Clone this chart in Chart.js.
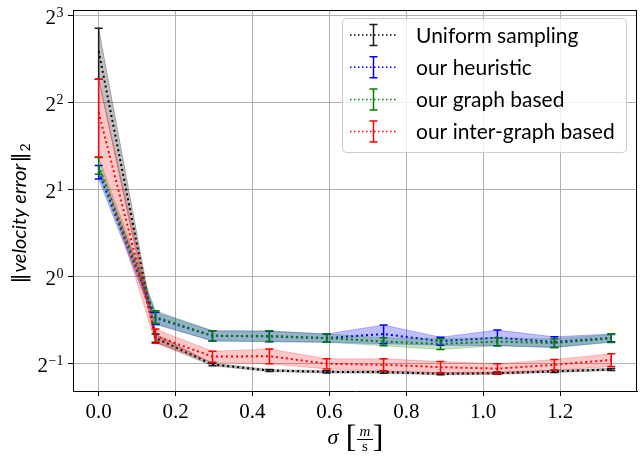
<!DOCTYPE html>
<html>
<head>
<meta charset="utf-8">
<script src="https://cdn.jsdelivr.net/npm/chart.js@4.4.0/dist/chart.umd.min.js"></script>
<style>
  html, body { margin: 0; padding: 0; background: #fff; }
  canvas { display: block; }
</style>
</head>
<body>
<canvas id="grafico" width="640" height="456"></canvas>
<script>
// valores (sigma em m/s, erro em escala log2)
const sigma = [0, 0.148, 0.296, 0.444, 0.593, 0.741, 0.889, 1.037, 1.185, 1.333];
const xTicks = [0, 0.2, 0.4, 0.6, 0.8, 1.0, 1.2];
const yTicks = [0.5, 1, 2, 4, 8];

const uniformMean   = [6.0, 0.61, 0.494, 0.471, 0.466, 0.465, 0.459, 0.461, 0.468, 0.475];
const uniformStd    = [1.2, 0.02, 0.005, 0.004, 0.004, 0.004, 0.004, 0.004, 0.004, 0.004];
const heuristicMean = [2.29, 0.715, 0.621, 0.618, 0.61, 0.63, 0.595, 0.612, 0.591, 0.611];
const heuristicStd  = [0.125, 0.035, 0.025, 0.026, 0.02, 0.047, 0.019, 0.038, 0.025, 0.019];
const graphMean     = [2.41, 0.722, 0.621, 0.62, 0.61, 0.593, 0.582, 0.593, 0.586, 0.608];
const graphStd      = [0.16, 0.037, 0.025, 0.026, 0.02, 0.019, 0.025, 0.019, 0.02, 0.019];
const interMean     = [3.69, 0.62, 0.526, 0.528, 0.497, 0.493, 0.484, 0.478, 0.493, 0.512];
const interStd      = [1.11, 0.035, 0.023, 0.031, 0.02, 0.024, 0.022, 0.019, 0.021, 0.026];

const series = [
  { label: 'Uniform sampling',      mean: uniformMean,   std: uniformStd,   line: '#000000', bar: '#1a1a1a', band: 'rgba(0,0,0,0.25)' },
  { label: 'our heuristic',         mean: heuristicMean, std: heuristicStd, line: '#0000ff', bar: '#0000ff', band: 'rgba(0,0,255,0.25)' },
  { label: 'our graph based',       mean: graphMean,     std: graphStd,     line: '#008000', bar: '#008000', band: 'rgba(0,128,0,0.22)' },
  { label: 'our inter-graph based', mean: interMean,     std: interStd,     line: '#ff0000', bar: '#ff0000', band: 'rgba(255,0,0,0.22)' }
];

const SERIF = '"Liberation Serif", "DejaVu Serif", serif';
const SANS = 'Lato, "DejaVu Sans", sans-serif';

function pontos(valores) {
  return sigma.map((x, i) => ({ x: x, y: valores[i] }));
}

// faixa (media +- desvio) e linha pontilhada de cada série
const datasets = [];
series.forEach(s => {
  const sup = s.mean.map((m, i) => m + s.std[i]);
  const inf = s.mean.map((m, i) => m - s.std[i]);
  datasets.push({ label: s.label + ' sup', data: pontos(sup), borderColor: s.band, borderWidth: 1, pointRadius: 0, fill: false });
  datasets.push({ label: s.label + ' inf', data: pontos(inf), borderColor: s.band, backgroundColor: s.band, borderWidth: 1, pointRadius: 0, fill: '-1' });
  datasets.push({ label: s.label, data: pontos(s.mean), borderColor: s.line, borderWidth: 2, borderDash: [2, 3], pointRadius: 0, fill: false });
});
datasets.forEach((d, i) => { d.order = datasets.length - i; d.tension = 0; });

// barras de erro desenhadas pelas escalas do gráfico
const barrasErro = {
  id: 'barrasErro',
  afterDatasetsDraw(chart) {
    const { ctx, scales: { x, y } } = chart;
    ctx.save();
    ctx.lineWidth = 1.5;
    series.forEach(s => {
      ctx.strokeStyle = s.bar;
      sigma.forEach((v, i) => {
        const px = x.getPixelForValue(v);
        const topo = y.getPixelForValue(s.mean[i] + s.std[i]);
        const base = y.getPixelForValue(s.mean[i] - s.std[i]);
        ctx.beginPath();
        ctx.moveTo(px, topo); ctx.lineTo(px, base);
        ctx.moveTo(px - 4, topo); ctx.lineTo(px + 4, topo);
        ctx.moveTo(px - 4, base); ctx.lineTo(px + 4, base);
        ctx.stroke();
      });
    });
    ctx.restore();
  }
};

// moldura, rótulos do eixo y, títulos e legenda
const extras = {
  id: 'extras',
  afterDraw(chart) {
    const { ctx, chartArea: a, scales: { y } } = chart;
    ctx.save();

    // moldura completa
    ctx.strokeStyle = '#000';
    ctx.lineWidth = 1;
    ctx.beginPath();
    ctx.moveTo(Math.round(a.left), Math.round(a.top) + 0.5);
    ctx.lineTo(Math.round(a.right), Math.round(a.top) + 0.5);
    ctx.moveTo(Math.round(a.right) - 0.5, Math.round(a.top));
    ctx.lineTo(Math.round(a.right) - 0.5, Math.round(a.bottom));
    ctx.stroke();

    // rótulos 2^n
    ctx.fillStyle = '#000';
    ctx.textAlign = 'right';
    ctx.textBaseline = 'alphabetic';
    yTicks.forEach(v => {
      const py = y.getPixelForValue(v);
      const e = Math.round(Math.log2(v));
      const expTxt = e < 0 ? '\u2212' + (-e) : String(e);
      ctx.font = '14px ' + SERIF;
      const we = ctx.measureText(expTxt).width;
      ctx.fillText(expTxt, 63.5, py + 1.7);
      ctx.font = '21px ' + SERIF;
      ctx.fillText('2', 63.5 - we - 0.5, py + 9);
    });

    // título do eixo y: ||velocity error||_2
    ctx.save();
    ctx.translate(26, 213);
    ctx.rotate(-Math.PI / 2);
    const partes = [
      { t: '\u2016', f: '20px "DejaVu Sans", sans-serif', dy: 0 },
      { t: 'velocity error', f: 'italic 20px ' + SANS, dy: 0 },
      { t: '\u2016', f: '20px "DejaVu Sans", sans-serif', dy: 0 },
      { t: '2', f: '14px ' + SANS, dy: 4 }
    ];
    let total = 0;
    partes.forEach(p => { ctx.font = p.f; p.w = ctx.measureText(p.t).width + 1; total += p.w; });
    let cx = -total / 2;
    ctx.textAlign = 'left';
    partes.forEach(p => { ctx.font = p.f; ctx.fillText(p.t, cx, p.dy); cx += p.w; });
    ctx.restore();

    // título do eixo x: sigma [m/s]
    ctx.textAlign = 'center';
    ctx.font = 'italic 22px ' + SERIF;
    ctx.fillText('\u03c3', 333, 444);
    ctx.font = '32px ' + SERIF;
    ctx.fillText('[', 351, 447);
    ctx.fillText(']', 378, 447);
    ctx.font = 'italic 15px ' + SERIF;
    ctx.fillText('m', 365, 436);
    ctx.font = '15px ' + SERIF;
    ctx.fillText('s', 365, 451);
    ctx.lineWidth = 1;
    ctx.beginPath();
    ctx.moveTo(357, 439.5); ctx.lineTo(373, 439.5);
    ctx.stroke();

    // legenda
    const lx = 342, ly = 18, lw = 284, lh = 134;
    ctx.beginPath();
    ctx.roundRect(lx + 0.5, ly + 0.5, lw, lh, 4);
    ctx.fillStyle = 'rgba(255,255,255,0.8)';
    ctx.fill();
    ctx.strokeStyle = '#cccccc';
    ctx.stroke();
    series.forEach((s, i) => {
      const ry = 35 + i * 32.2;
      ctx.strokeStyle = s.line;
      ctx.lineWidth = 1.5;
      ctx.setLineDash([1.5, 2.5]);
      ctx.beginPath();
      ctx.moveTo(350, ry); ctx.lineTo(397, ry);
      ctx.stroke();
      ctx.setLineDash([]);
      ctx.strokeStyle = s.bar;
      ctx.beginPath();
      ctx.moveTo(373.5, ry - 10.5); ctx.lineTo(373.5, ry + 10.5);
      ctx.moveTo(369.5, ry - 10.5); ctx.lineTo(377.5, ry - 10.5);
      ctx.moveTo(369.5, ry + 10.5); ctx.lineTo(377.5, ry + 10.5);
      ctx.stroke();
      ctx.fillStyle = '#000';
      ctx.font = '21px ' + SANS;
      ctx.textAlign = 'left';
      ctx.textBaseline = 'middle';
      ctx.fillText(s.label, 416, ry + 1);
    });
    ctx.restore();
  }
};

new Chart(document.getElementById('grafico'), {
  type: 'line',
  data: { datasets: datasets },
  options: {
    responsive: false,
    animation: false,
    devicePixelRatio: 1,
    layout: { padding: { top: 7, right: 3, left: 0, bottom: 0 } },
    plugins: {
      legend: { display: false },
      tooltip: { enabled: false }
    },
    scales: {
      x: {
        type: 'linear',
        min: -0.0667,
        max: 1.4,
        afterBuildTicks: scale => { scale.ticks = xTicks.map(v => ({ value: v })); },
        afterFit: scale => { scale.height = 65; },
        grid: { color: '#b0b0b0', lineWidth: 1, tickColor: '#000', tickLength: 5 },
        border: { color: '#000', width: 1 },
        ticks: {
          color: '#000',
          padding: 4,
          maxRotation: 0,
          font: { family: SERIF, size: 21 },
          callback: v => Number(v).toFixed(1)
        }
      },
      y: {
        type: 'logarithmic',
        min: 0.4,
        max: 8.32,
        afterBuildTicks: scale => { scale.ticks = yTicks.map(v => ({ value: v })); },
        afterFit: scale => { scale.width = 73; },
        grid: { color: '#b0b0b0', lineWidth: 1, tickColor: '#000', tickLength: 5 },
        border: { color: '#000', width: 1 },
        ticks: { callback: () => '' }
      }
    }
  },
  plugins: [barrasErro, extras]
});
</script>
</body>
</html>
